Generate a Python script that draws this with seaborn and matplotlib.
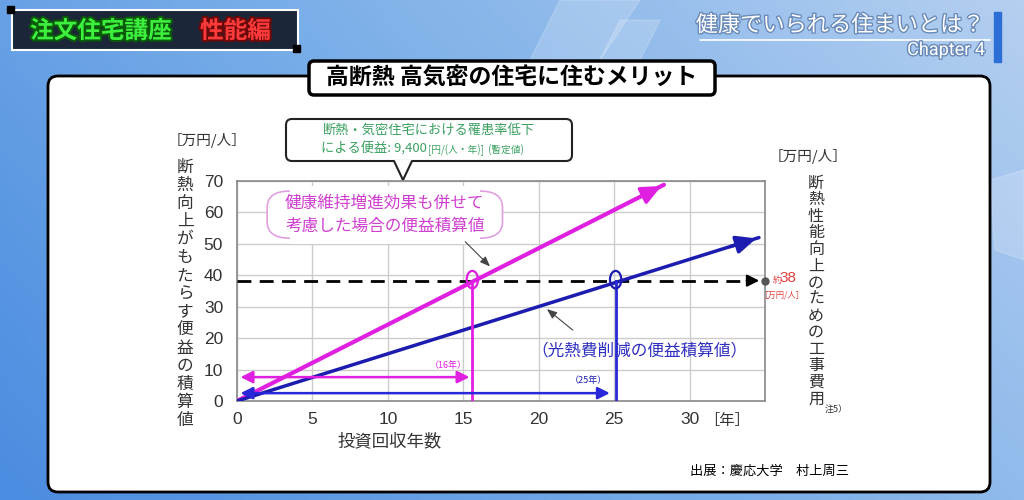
import numpy as np
import pandas as pd
import matplotlib
matplotlib.use("Agg")
import matplotlib.pyplot as plt
import seaborn as sns
from matplotlib.patches import FancyBboxPatch, Ellipse, Rectangle, Polygon
import matplotlib.patheffects as pe

# ---------------- data ----------------
years_pink = [0.0, 28.3]          # health + energy benefit
benefit_pink = [0.0, 68.8]
years_blue = [0.0, 34.6]          # energy-cost-saving benefit only
benefit_blue = [0.0, 52.0]
cost_level = 38.3                 # construction cost (approx. 38 万円/人)
payback_pink = 15.6
payback_blue = 25.1
x_ticks = [0, 5, 10, 15, 20, 25, 30]
y_ticks = [0, 10, 20, 30, 40, 50, 60, 70]

sns.set_theme(style="white")
plt.rcParams['font.family'] = ['Noto Sans CJK JP', 'DejaVu Sans']

PINK = "#e020e0"
BLUE = "#1c1cb0"
BLUE2 = "#2828d8"

fig = plt.figure(figsize=(10.24, 5.0), dpi=100)

# ---------------- background (pixel coords) ----------------
bg = fig.add_axes([0, 0, 1, 1])
bg.set_xlim(0, 1024)
bg.set_ylim(500, 0)
bg.axis("off")
gx = np.linspace(0, 1, 256)[None, :]
gy = np.linspace(0, 1, 128)[:, None]
grad = 0.55 * gx + 0.25 * (1 - gy)
cmap = matplotlib.colors.LinearSegmentedColormap.from_list("bgc", ["#4a8ce0", "#7aaee8", "#b4cff0"])
bg.imshow(grad, extent=[0, 1024, 500, 0], cmap=cmap, aspect="auto", zorder=0)
# light decorative shapes
for pts in [[(560, 0), (640, 0), (560, 120), (500, 120)],
            [(620, 20), (660, 20), (640, 60), (600, 60)],
            [(990, 180), (1024, 170), (1024, 260), (995, 250)]]:
    bg.add_patch(Polygon(pts, closed=True, color="white", alpha=0.18, zorder=1))

# badge top-left
bg.add_patch(Rectangle((12, 10), 286, 40, facecolor="#1b2638", edgecolor="white", lw=1.5, zorder=2))
bg.add_patch(Rectangle((7, 6), 7, 7, color="black", zorder=3))
bg.add_patch(Rectangle((293, 45), 7, 7, color="black", zorder=3))
bg.text(30, 31, "注文住宅講座", fontsize=17, fontweight="bold", color="#3ef03e", va="center", ha="left",
        path_effects=[pe.withStroke(linewidth=3, foreground="#0a5a0a")], zorder=4)
bg.text(200, 31, "性能編", fontsize=17, fontweight="bold", color="#ff3a3a", va="center", ha="left",
        path_effects=[pe.withStroke(linewidth=3, foreground="#6a0a0a")], zorder=4)

# top-right title
bg.text(985, 25, "健康でいられる住まいとは？", fontsize=16, color="white", ha="right", va="center",
        path_effects=[pe.withStroke(linewidth=2, foreground="#6a8ab8")], zorder=4)
bg.plot([700, 990], [40, 40], color="white", lw=1.2, zorder=4)
bg.text(985, 50, "Chapter 4", fontsize=13, color="white", ha="right", va="center",
        family=["Roboto", "DejaVu Sans"],
        path_effects=[pe.withStroke(linewidth=2, foreground="#6a8ab8")], zorder=4)
bg.add_patch(Rectangle((994, 12), 7, 50, color="#2a6ed6", zorder=4))

# white panel
bg.add_patch(FancyBboxPatch((48, 76), 942, 416, boxstyle="round,pad=0,rounding_size=10",
                            facecolor="white", edgecolor="black", lw=2, zorder=2))
# title box
bg.add_patch(FancyBboxPatch((309, 61), 406, 34, boxstyle="round,pad=0,rounding_size=5",
                            facecolor="white", edgecolor="black", lw=2.5, zorder=3))
bg.text(512, 78, "高断熱 高気密の住宅に住むメリット", fontsize=16.5, fontweight="bold", color="black",
        ha="center", va="center", zorder=4)

# callout (green text) above chart
bg.add_patch(FancyBboxPatch((286, 119), 286, 42, boxstyle="round,pad=0,rounding_size=6",
                            facecolor="white", edgecolor="#222222", lw=1.5, zorder=3))
bg.add_patch(Polygon([(394, 160), (412, 160), (403, 180)], closed=True, facecolor="white",
                     edgecolor="none", zorder=4))
bg.plot([394, 403, 412], [161, 180, 161], color="#222222", lw=1.5, zorder=4)
GREEN = "#3aa060"
bg.text(429, 130, "断熱・気密住宅における罹患率低下", fontsize=9.5, color=GREEN, ha="center", va="center", zorder=5)
bg.text(427, 149, "による便益: 9,400", fontsize=9.5, color=GREEN, ha="right", va="center", zorder=5)
bg.text(428, 150, "[円/(人・年)]  (暫定値)", fontsize=7, color=GREEN, ha="left", va="center", zorder=5)

# left axis label
bg.text(207, 140, "［万円/人］", fontsize=10.5, color="#333333", ha="center", va="center", zorder=5)
left_lab = "断熱向上がもたらす便益の積算値"
for i, ch in enumerate(left_lab):
    bg.text(185, 167 + i * 18.1, ch, fontsize=12, color="#333333", ha="center", va="center", zorder=5)

# right axis label
bg.text(808, 156, "［万円/人］", fontsize=10.5, color="#333333", ha="center", va="center", zorder=5)
right_lab = "断熱性能向上のための工事費用"
for i, ch in enumerate(right_lab):
    bg.text(816, 183 + i * 16.6, ch, fontsize=11.5, color="#333333", ha="center", va="center", zorder=5)
bg.text(836, 409, "注5）", fontsize=6.5, color="#333333", ha="center", va="center", zorder=5)

# other texts
bg.text(777, 280, "約", fontsize=6.5, color="#e04040", ha="center", va="center", zorder=5)
bg.text(788, 278, "38", fontsize=11, color="#e04040", ha="center", va="center",
        family=["Liberation Sans", "DejaVu Sans"], zorder=5)
bg.text(782, 295, "［万円/人］", fontsize=6, color="#e04040", ha="center", va="center", zorder=5)
bg.text(727, 421, "［年］", fontsize=11, color="#333333", ha="center", va="center", zorder=5)
bg.text(390, 441, "投資回収年数", fontsize=12.5, color="#333333", ha="center", va="center", zorder=5)
bg.text(770, 471, "出展：慶応大学　村上周三", fontsize=9.5, color="black", ha="center", va="center", zorder=5)

# ---------------- chart ----------------
ax = fig.add_axes([237 / 1024, 99 / 500, 528 / 1024, 220 / 500], zorder=3)
ax.set_facecolor("none")
ax.set_xlim(0, 35)
ax.set_ylim(0, 70)
ax.set_xticks(x_ticks)
ax.set_yticks(y_ticks)
ax.grid(True, color="#cccccc", lw=1)
for s in ax.spines.values():
    s.set_color("#888888")
    s.set_linewidth(1.2)
ax.tick_params(axis="both", length=0, labelsize=12.5, labelcolor="#333333")
ax.tick_params(axis="x", pad=8)
ax.tick_params(axis="y", pad=10)
for lab in ax.get_xticklabels() + ax.get_yticklabels():
    lab.set_family(["Liberation Sans", "DejaVu Sans"])

df_p = pd.DataFrame({"year": years_pink, "benefit": benefit_pink})
df_b = pd.DataFrame({"year": years_blue, "benefit": benefit_blue})
sns.lineplot(data=df_p, x="year", y="benefit", color=PINK, lw=3, ax=ax, zorder=5)
sns.lineplot(data=df_b, x="year", y="benefit", color=BLUE, lw=2.5, ax=ax, zorder=5)
ax.set_xlabel("")
ax.set_ylabel("")
for lab in ax.get_xticklabels() + ax.get_yticklabels():
    lab.set_family(["Liberation Sans", "DejaVu Sans"])
# arrowheads at line ends
for xs, ys, c in [(years_pink, benefit_pink, PINK), (years_blue, benefit_blue, BLUE)]:
    x0 = xs[1] - (xs[1] - xs[0]) * 0.06
    y0 = ys[1] - (ys[1] - ys[0]) * 0.06
    ax.annotate("", xy=(xs[1], ys[1]), xytext=(x0, y0),
                arrowprops=dict(arrowstyle="-|>,head_length=1.0,head_width=0.45", color=c, lw=2.5),
                annotation_clip=False, zorder=6)

# dashed cost line with arrow and dot
ax.plot([0, 34.3], [cost_level, cost_level], color="black", lw=2, ls=(0, (5, 3)), zorder=4)
ax.annotate("", xy=(34.8, cost_level), xytext=(33.6, cost_level),
            arrowprops=dict(arrowstyle="-|>,head_length=0.6,head_width=0.3", color="black", lw=1.5),
            annotation_clip=False)
ax.plot([35], [cost_level], "o", color="#555555", ms=5, clip_on=False, zorder=6)

# payback vertical lines and ellipses
ax.plot([payback_pink, payback_pink], [0, cost_level], color=PINK, lw=2, zorder=5)
ax.plot([payback_blue, payback_blue], [0, cost_level], color=BLUE2, lw=2, zorder=5)
ax.add_patch(Ellipse((payback_pink, cost_level + 0.3), 0.75, 5.6, fill=False, edgecolor=PINK, lw=1.6, zorder=6))
ax.add_patch(Ellipse((payback_blue, cost_level + 0.3), 0.75, 5.6, fill=False, edgecolor=BLUE, lw=1.6, zorder=6))

# horizontal double arrows
ax.annotate("", xy=(payback_pink, 7.6), xytext=(0.05, 7.6),
            arrowprops=dict(arrowstyle="<|-|>,head_length=0.6,head_width=0.3", color=PINK, lw=1.8), zorder=6)
ax.annotate("", xy=(payback_blue - 0.2, 2.5), xytext=(0.05, 2.5),
            arrowprops=dict(arrowstyle="<|-|>,head_length=0.6,head_width=0.3", color=BLUE2, lw=1.8), zorder=6)
ax.text(14.0, 11.2, "（16年）", fontsize=6.5, color=PINK, ha="center", va="center")
ax.text(23.3, 6.5, "（25年）", fontsize=6.5, color=BLUE, ha="center", va="center")

# pink label with bracket-like box
ax.add_patch(FancyBboxPatch((2.0, 51.8), 15.6, 15.0, boxstyle="round,pad=0,rounding_size=1.5",
                            mutation_aspect=3.5, facecolor="white", edgecolor="#e0a0e0", lw=1.2, zorder=4))
ax.add_patch(Rectangle((3.5, 50), 12.6, 18.5, facecolor="white", edgecolor="none", zorder=4))
ax.text(9.8, 63.0, "健康維持増進効果も併せて", fontsize=12, color="#d040d0", ha="center", va="center", zorder=5)
ax.text(9.8, 55.5, "考慮した場合の便益積算値", fontsize=12, color="#d040d0", ha="center", va="center", zorder=5)
ax.annotate("", xy=(16.9, 42.2), xytext=(15.0, 51.3),
            arrowprops=dict(arrowstyle="-|>,head_length=0.5,head_width=0.2", color="#444444", lw=0.8), zorder=6)

# blue label
ax.text(26.7, 16.0, "（光熱費削減の便益積算値）", fontsize=12, color="#3030c0", ha="center", va="center", zorder=5)
ax.annotate("", xy=(20.4, 29.8), xytext=(22.4, 22.0),
            arrowprops=dict(arrowstyle="-|>,head_length=0.5,head_width=0.2", color="#444444", lw=0.8), zorder=6)

fig.savefig("out.png", dpi=100)
